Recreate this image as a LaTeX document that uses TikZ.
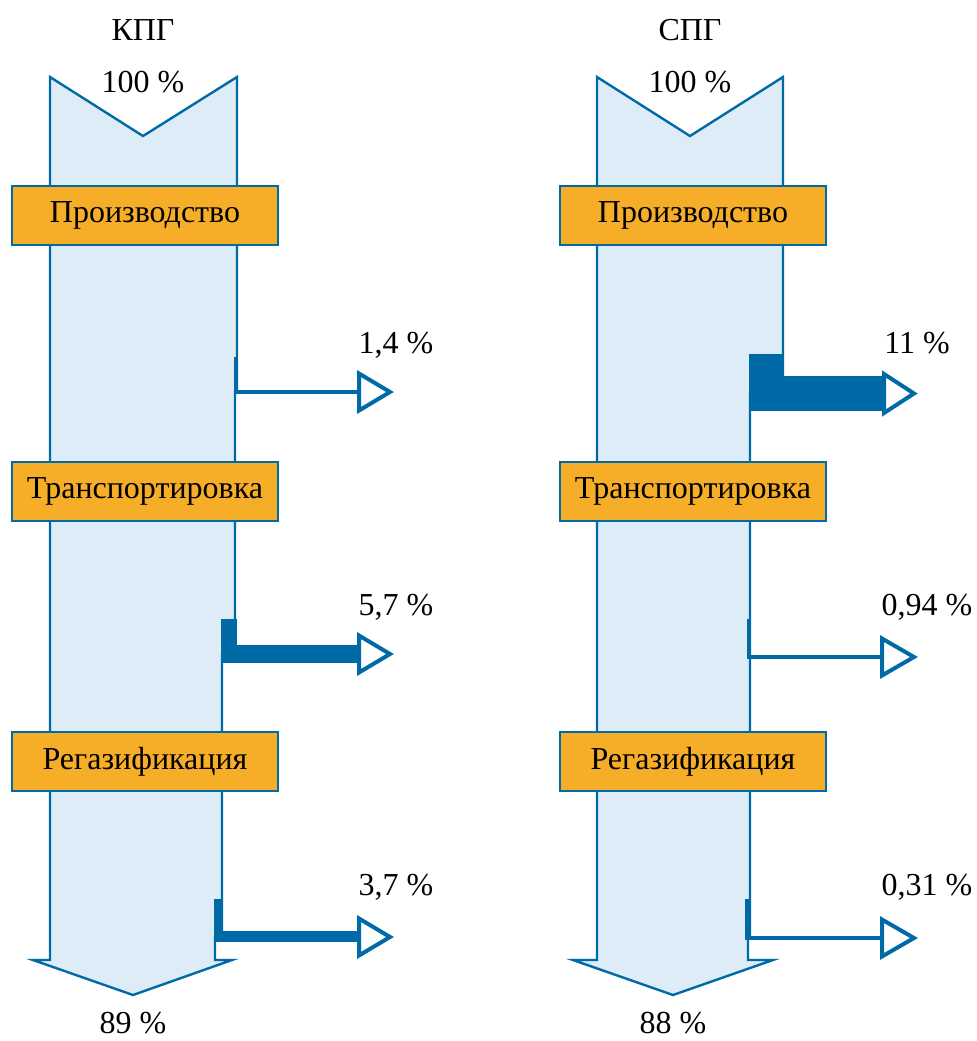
\documentclass[tikz,border=0pt]{standalone}
\usepackage{fontspec}
\setmainfont{Liberation Serif}
\usetikzlibrary{calc}
\definecolor{flow_fill}{RGB}{221, 236, 247}
\definecolor{flow_blue}{RGB}{0, 106, 167}
\definecolor{stage_orange}{RGB}{246, 174, 40}
\tikzstyle{stage}=[rectangle,fill=stage_orange,draw=flow_blue,line width=1pt,
  minimum width=133pt,minimum height=29.5pt,inner sep=0pt,font=\fontsize{16}{19}\selectfont]
\tikzstyle{lbl}=[inner sep=0pt,font=\fontsize{16}{19}\selectfont]
\tikzstyle{body}=[fill=flow_fill,draw=flow_blue,line width=1.2pt,line join=miter]
\tikzstyle{loss}=[fill=flow_blue,draw=flow_blue,line width=0.6pt]
\tikzstyle{head}=[fill=white,draw=flow_blue,line width=2pt,line join=miter]

\begin{document}
\begin{tikzpicture}[x=0.5pt, y=-0.5pt]
            \useasboundingbox (0, 0) rectangle (977, 1041);
            % flow bodies
            \draw [style=body] (50, 77) -- (143, 136) -- (237, 77) -- (237, 392) -- (235, 392)
                -- (235, 654) -- (222, 654) -- (222, 937) -- (215, 937) -- (215, 960)
                -- (232, 960) -- (133, 995) -- (33, 960) -- (50, 960) -- cycle;
            \draw [style=body] (597, 77) -- (690, 136) -- (783, 77) -- (783, 393) -- (750, 393)
                -- (750, 938) -- (748, 938) -- (748, 960)
                -- (773, 960) -- (673, 995) -- (573, 960) -- (597, 960) -- cycle;
            % stages
            \node [style=stage] (0) at (145, 215.5) {Производство};
            \node [style=stage] (1) at (145, 491) {Транспортировка};
            \node [style=stage] (2) at (145, 761.5) {Регазификация};
            \node [style=stage] (3) at (693, 215.5) {Производство};
            \node [style=stage] (4) at (693, 491) {Транспортировка};
            \node [style=stage] (5) at (693, 761.5) {Регазификация};
            % losses
            \draw [style=loss] (235, 358) -- (237, 358) -- (237, 391) -- (359, 391) -- (359, 393) -- (235, 393) -- cycle;
            \draw [style=loss] (222, 620) -- (236, 620) -- (236, 646) -- (359, 646) -- (359, 662) -- (222, 662) -- cycle;
            \draw [style=loss] (215, 900) -- (222, 900) -- (222, 932) -- (359, 932) -- (359, 941) -- (215, 941) -- cycle;
            \draw [style=loss] (750, 355) -- (783, 355) -- (783, 377) -- (884, 377) -- (884, 410) -- (750, 410) -- cycle;
            \draw [style=loss] (748, 620) -- (750, 620) -- (750, 656) -- (882, 656) -- (882, 658) -- (748, 658) -- cycle;
            \draw [style=loss] (746, 900) -- (749, 900) -- (749, 937) -- (882, 937) -- (882, 939) -- (746, 939) -- cycle;
            \draw [style=head] (359, 373.5) -- (390, 392) -- (359, 410.5) -- cycle;
            \draw [style=head] (359, 635.5) -- (390, 654) -- (359, 672.5) -- cycle;
            \draw [style=head] (359, 918.5) -- (390, 937) -- (359, 955.5) -- cycle;
            \draw [style=head] (884, 374) -- (914, 393.5) -- (884, 413) -- cycle;
            \draw [style=head] (882, 638.5) -- (914, 657) -- (882, 675.5) -- cycle;
            \draw [style=head] (882, 919.5) -- (914, 938) -- (882, 956.5) -- cycle;
            % labels
            \node [style=lbl] (6) at (143, 30) {КПГ};
            \node [style=lbl] (7) at (690, 30) {СПГ};
            \node [style=lbl] (8) at (143, 82) {100 \%};
            \node [style=lbl] (9) at (690, 82) {100 \%};
            \node [style=lbl] (10) at (396, 345) {1,4 \%};
            \node [style=lbl] (11) at (396, 607) {5,7 \%};
            \node [style=lbl] (12) at (396, 887) {3,7 \%};
            \node [style=lbl] (13) at (917, 343) {11 \%};
            \node [style=lbl] (14) at (927, 607) {0,94 \%};
            \node [style=lbl] (15) at (927, 887) {0,31 \%};
            \node [style=lbl] (16) at (133, 1023) {89 \%};
            \node [style=lbl] (17) at (673, 1023) {88 \%};
    \end{tikzpicture}
\end{document}
